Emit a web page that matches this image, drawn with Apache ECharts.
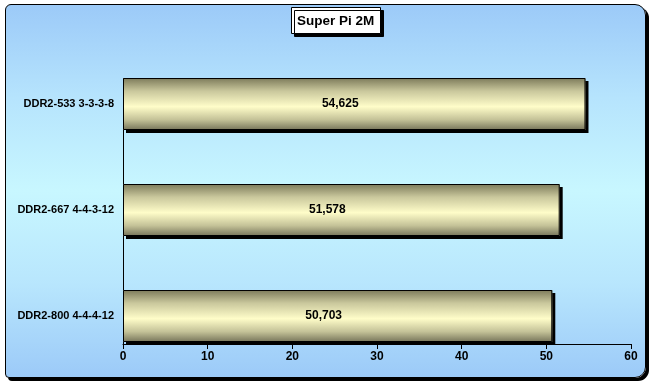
<!DOCTYPE html>
<html>
<head>
<meta charset="utf-8">
<script src="https://cdn.jsdelivr.net/npm/echarts@6/dist/echarts.min.js"></script>
<style>
html,body{margin:0;padding:0;width:656px;height:386px;background:#fff;overflow:hidden;}
#frame{position:absolute;left:5px;top:4px;width:641px;height:374px;box-sizing:border-box;
  border:1.5px solid #000;border-radius:6px 11px 11px 4px;
  box-shadow:3px 3px 0 #000;
  background:linear-gradient(to bottom,#9ccaf8 0%,#b6e4fd 25%,#c8f7ff 50%,#b8e6fd 75%,#9ccaf8 100%);}
#chart{position:absolute;left:0;top:0;width:656px;height:386px;}
</style>
</head>
<body>
<div id="frame"></div>
<div id="chart"></div>
<script>
const categories = ['DDR2-533 3-3-3-8', 'DDR2-667 4-4-3-12', 'DDR2-800 4-4-4-12'];
const values = [54.625, 51.578, 50.703];
const xMin = 0, xMax = 60, xStep = 10;
const titleText = 'Super Pi 2M';

const FONT = '"Liberation Sans", Arial, sans-serif';
const BAR_W = 52;
const chart = echarts.init(document.getElementById('chart'), null, {renderer: 'canvas'});

const barColor = new echarts.graphic.LinearGradient(0, 0, 0, 1, [
  {offset: 0, color: '#7c7a5a'},
  {offset: 0.25, color: '#c9c79c'},
  {offset: 0.55, color: '#fffdc9'},
  {offset: 0.8, color: '#c4c298'},
  {offset: 1, color: '#76745a'}
]);

const option = {
  animation: false,
  backgroundColor: 'transparent',
  title: {
    text: titleText,
    left: 291, top: 7,
    padding: [7, 6, 6, 6],
    backgroundColor: '#fff',
    borderColor: '#000', borderWidth: 1,
    shadowColor: '#000', shadowOffsetX: 3, shadowOffsetY: 3, shadowBlur: 0,
    textStyle: {fontFamily: FONT, fontSize: 13.5, fontWeight: 'bold', color: '#000'}
  },
  grid: {left: 123, right: 25, top: 51, height: 318, containLabel: false},
  xAxis: {
    type: 'value', min: xMin, max: xMax, interval: xStep,
    position: 'bottom', offset: -25,
    axisLine: {show: true, lineStyle: {color: '#000', width: 1}},
    axisTick: {show: true, length: 5, lineStyle: {color: '#000'}},
    splitLine: {show: false},
    axisLabel: {margin: 7, fontFamily: FONT, fontSize: 12, fontWeight: 'bold', color: '#000'}
  },
  yAxis: {
    type: 'category', data: categories, inverse: true,
    axisLine: {show: false}, axisTick: {show: false},
    axisLabel: {margin: 9, fontFamily: FONT, fontSize: 11, fontWeight: 'bold', color: '#000'}
  },
  series: [{
    // filled cylinder with drop shadow
    type: 'bar',
    data: values,
    barWidth: BAR_W,
    silent: true,
    itemStyle: {
      color: barColor, borderWidth: 0,
      shadowColor: '#000', shadowOffsetX: 3, shadowOffsetY: 3, shadowBlur: 0
    }
  }, {
    // outline + value labels
    type: 'bar',
    data: values,
    barWidth: BAR_W,
    barGap: '-100%',
    itemStyle: {color: 'rgba(0,0,0,0)', borderColor: '#000', borderWidth: 1},
    label: {
      show: true, position: 'inside', offset: [-14, 0],
      fontFamily: FONT, fontSize: 12, fontWeight: 'bold', color: '#000',
      formatter: p => p.value.toFixed(3).replace('.', ',')
    }
  }]
};
chart.setOption(option);

// y axis line: from top of first bar down to the x axis line
const x0 = chart.convertToPixel({xAxisIndex: 0}, xMin);
const yTop = chart.convertToPixel({yAxisIndex: 0}, categories[0]) - BAR_W / 2;
const yBottom = chart.convertToPixel({yAxisIndex: 0}, categories[categories.length - 1]) + BAR_W / 2 + 2;
chart.setOption({
  graphic: [{
    type: 'line', silent: true, z: 0,
    shape: {x1: Math.round(x0) + 0.5, y1: yTop, x2: Math.round(x0) + 0.5, y2: yBottom},
    style: {stroke: '#000', lineWidth: 1}
  }]
});
</script>
</body>
</html>
